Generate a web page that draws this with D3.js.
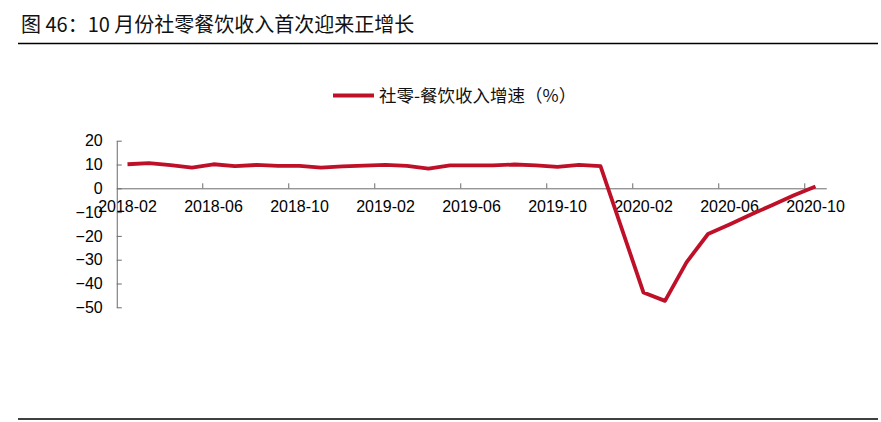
<!DOCTYPE html>
<html>
<head>
<meta charset="utf-8">
<script src="https://cdn.jsdelivr.net/npm/d3@7"></script>
<style>
  body { margin: 0; background: #fff; }
  svg { display: block; }
</style>
</head>
<body>
<svg id="chart"></svg>
<script>
// monthly categories, 2018-02 .. 2020-10 (January values are not published)
var months = [
  "2018-02","2018-03","2018-04","2018-05","2018-06","2018-07","2018-08","2018-09",
  "2018-10","2018-11","2018-12","2019-01","2019-02","2019-03","2019-04","2019-05",
  "2019-06","2019-07","2019-08","2019-09","2019-10","2019-11","2019-12","2020-01",
  "2020-02","2020-03","2020-04","2020-05","2020-06","2020-07","2020-08","2020-09",
  "2020-10"
];
var growth = [
  10.1, 10.6, 9.7, 8.7, 10.1, 9.3, 9.8, 9.4,
  9.4, 8.7, 9.2, null, 9.8, 9.4, 8.3, 9.6,
  9.6, 9.6, 10.0, 9.6, 9.0, 9.8, 9.3, null,
  -43.8, -47.3, -31.1, -19.2, -15.2, -11.0, -7.0, -2.9,
  0.8
];
var xLabels = ["2018-02","2018-06","2018-10","2019-02","2019-06","2019-10","2020-02","2020-06","2020-10"];
var yTicks = [20, 10, 0, -10, -20, -30, -40, -50];
var seriesName = "社零-餐饮收入增速（%）";
var title = "图 46：10 月份社零餐饮收入首次迎来正增长";

var dimensions = {
    width: 881,
    height: 422,
    plot: { left: 116.75, right: 826.25, top: 140.7, bottom: 307.3 }
}
var red = "#bf1029";
var axisColor = "#6b6b6b";
var font = "Arial, 'Liberation Sans', sans-serif";
var cjk = "'Noto Sans CJK SC', sans-serif";

var svg = d3.select("#chart")
            .attr("width", dimensions.width)
            .attr("height", dimensions.height)

// title + rules
svg.append("text")
   .text(title)
   .attr("x", 21)
   .attr("y", 32)
   .style("font-family", cjk)
   .style("font-size", "20px")
   .attr("fill", "#111")

svg.append("line")
   .attr("x1", 18).attr("x2", 878)
   .attr("y1", 43.5).attr("y2", 43.5)
   .attr("stroke", "#000").attr("stroke-width", 1.3)

svg.append("line")
   .attr("x1", 18).attr("x2", 878)
   .attr("y1", 419).attr("y2", 419)
   .attr("stroke", "#000").attr("stroke-width", 1.3)

var data = months.map((m, i) => ({ month: m, value: growth[i] }));

var xScale = d3.scaleBand()
               .domain(months)
               .range([dimensions.plot.left, dimensions.plot.right])

var yScale = d3.scaleLinear()
               .domain([-50, 20])
               .range([dimensions.plot.bottom, dimensions.plot.top])

// y axis
var yAxisGen = d3.axisLeft(yScale)
                 .tickValues(yTicks)
                 .tickSizeInner(-5)
                 .tickSizeOuter(0)
                 .tickPadding(14)
var yAxis = svg.append("g")
               .attr("transform", `translate(${dimensions.plot.left},0)`)
               .call(yAxisGen)
yAxis.selectAll("path, line").attr("stroke", axisColor)
yAxis.selectAll("text")
     .attr("fill", "#000")
     .style("font-family", font)
     .style("font-size", "16px")

// x axis sits on the zero line
var zeroY = yScale(0);
var xAxisGen = d3.axisBottom(xScale)
                 .tickValues(xLabels)
                 .tickSize(0)
                 .tickPadding(12)
var xAxis = svg.append("g")
               .attr("transform", `translate(0,${zeroY})`)
               .call(xAxisGen)
xAxis.select(".domain").attr("stroke", axisColor)
xAxis.selectAll("text")
     .attr("fill", "#000")
     .style("font-family", font)
     .style("font-size", "16px")

// tick marks between categories, pointing up
svg.append("g")
   .selectAll("line")
   .data(xLabels.slice(1))
   .enter()
   .append("line")
   .attr("x1", d => xScale(d))
   .attr("x2", d => xScale(d))
   .attr("y1", zeroY)
   .attr("y2", zeroY - 5)
   .attr("stroke", axisColor)

// series line (missing months are bridged)
var line = d3.line()
             .x(d => xScale(d.month) + xScale.bandwidth() / 2)
             .y(d => yScale(d.value));

svg.append("path")
   .datum(data.filter(d => d.value !== null))
   .attr("d", line)
   .attr("fill", "none")
   .attr("stroke", red)
   .attr("stroke-width", 3.8)
   .attr("stroke-linejoin", "round")

// legend
var legend = svg.append("g").attr("transform", "translate(333,95.5)")
legend.append("line")
      .attr("x1", 0).attr("x2", 41)
      .attr("y1", 0).attr("y2", 0)
      .attr("stroke", red)
      .attr("stroke-width", 3.8)
legend.append("text")
      .text(seriesName)
      .attr("x", 46)
      .attr("y", 0)
      .attr("dy", "0.35em")
      .style("font-family", cjk)
      .style("font-size", "17.5px")
      .attr("fill", "#111")
</script>
</body>
</html>
